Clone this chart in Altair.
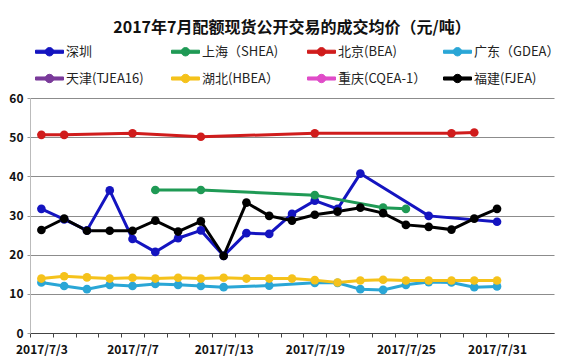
import altair as alt
import pandas as pd

dates = ["2017/7/3", "2017/7/4", "2017/7/5", "2017/7/6", "2017/7/7",
         "2017/7/10", "2017/7/11", "2017/7/12", "2017/7/13", "2017/7/14",
         "2017/7/17", "2017/7/18", "2017/7/19", "2017/7/20", "2017/7/21",
         "2017/7/24", "2017/7/25", "2017/7/26", "2017/7/27", "2017/7/28",
         "2017/7/31"]

series_names = ["深圳", "上海（SHEA)", "北京(BEA)", "广东（GDEA）",
                "天津(TJEA16)", "湖北(HBEA）", "重庆(CQEA-1）", "福建(FJEA)"]
series_colors = ["#1414c0", "#1f9a55", "#d01c1c", "#2aa6d6",
                 "#7a3a9a", "#f5c21b", "#e04cc8", "#000000"]

N = None
shenzhen = [31.7, 29.0, 26.2, 36.4, 24.0, 20.7, 24.2, 26.2, 19.7, 25.5, 25.3,
            30.4, 33.8, 31.7, 40.7, N, N, 29.9, N, N, 28.4]
shanghai = [N, N, N, N, N, 36.5, N, 36.5, N, N, N, N, 35.2, N, N, 32.0, 31.7,
            N, N, N, N]
beijing = [50.6, 50.6, N, N, 51.0, N, N, 50.1, N, N, N, N, 51.0, N, N, N, N,
           N, 51.0, 51.2, N]
guangdong = [12.9, 12.0, 11.2, 12.3, 12.0, 12.5, 12.3, 12.0, 11.7, N, 12.1, N,
             12.8, 12.8, 11.2, 11.0, 12.3, 13.0, 12.9, 11.7, 11.9]
tianjin = [N] * 21
hubei = [13.9, 14.5, 14.2, 13.9, 14.1, 13.9, 14.1, 13.9, 14.1, 13.9, 13.9,
         13.9, 13.5, 12.9, 13.4, 13.6, 13.4, 13.4, 13.4, 13.4, 13.4]
chongqing = [N] * 21
fujian = [26.3, 29.2, 26.1, 26.1, 26.1, 28.7, 25.9, 28.5, 19.7, 33.3, 29.9,
          28.7, 30.2, 31.0, 32.0, 30.6, 27.6, 27.1, 26.4, 29.2, 31.7]

y_ticks = [0, 10, 20, 30, 40, 50, 60]

all_values = [shenzhen, shanghai, beijing, guangdong, tianjin, hubei,
              chongqing, fujian]
rows = []
for k, (name, vals) in enumerate(zip(series_names, all_values)):
    for i, (d, v) in enumerate(zip(dates, vals)):
        if v is not None:
            rows.append({"series": name, "idx": i, "date": d, "value": v,
                         "k": k})
df = pd.DataFrame(rows)

FONT = "Noto Sans CJK SC"
tick_vals = [i - 0.5 for i in range(len(dates) + 1)]
labels_js = "[" + ",".join(
    ("'" + d + "'") if i % 4 == 0 else "''" for i, d in enumerate(dates)) + "]"
label_expr = labels_js + "[round(datum.value + 0.5)] || ''"

W, H = 524, 235
band = W / 23.0

x = alt.X("idx:Q", title=None,
          scale=alt.Scale(domain=[-0.5, 22.5], nice=False, zero=False),
          axis=alt.Axis(values=tick_vals, labelExpr=label_expr,
                        labelOffset=band / 2, labelOverlap=False,
                        labelBound=False, labelFlush=False, grid=False,
                        domainColor="#444444", tickColor="#444444",
                        tickSize=4, labelPadding=7, labelFontSize=12,
                        labelFontWeight="bold", labelColor="#111111",
                        labelFont=FONT))
y = alt.Y("value:Q", title=None,
          scale=alt.Scale(domain=[0, 60], nice=False),
          axis=alt.Axis(values=y_ticks, grid=True, gridColor="#8c8c8c",
                        gridWidth=1, domainColor="#bbbbbb", tickColor="#999999",
                        tickSize=3, labelPadding=4, labelFontSize=12,
                        labelFontWeight="bold", labelColor="#111111",
                        labelFont=FONT))

legend = alt.Legend(
    title=None, orient="none", legendX=5, legendY=-61, direction="horizontal",
    columns=4, gridAlign="all", columnPadding=14, rowPadding=5,
    symbolType="M-1,-0.11L1,-0.11L1,0.11L-1,0.11Z M-0.3,0A0.3,0.3,0,1,1,0.3,0A0.3,0.3,0,1,1,-0.3,0Z",
    symbolSize=784, symbolStrokeWidth=1, symbolOpacity=1,
    labelFont=FONT, labelFontSize=13, labelColor="#222222", labelOffset=2,
    labelLimit=200)

color = alt.Color("series:N",
                  scale=alt.Scale(domain=series_names, range=series_colors),
                  legend=legend)

base = alt.Chart(df)
lines = base.mark_line(strokeWidth=3).encode(
    x=x, y=y, color=color, order=alt.Order("idx:Q"))
points = base.mark_circle(size=75, opacity=1).encode(
    x=x, y=y, color=color)

chart = alt.layer(lines, points).properties(
    width=W, height=H,
    autosize=alt.AutoSizeParams(type="none"),
    padding={"left": 22, "top": 90, "right": 19, "bottom": 25},
    background="white",
    title=alt.Title("2017年7月配额现货公开交易的成交均价（元/吨）",
                    font=FONT, fontSize=16, fontWeight="bold",
                    color="#111111", anchor="middle", offset=1,
                    frame="group"),
).configure_view(stroke=None).configure_legend(gridAlign="all")

chart.save("out.html", embed_options={"renderer": "svg", "actions": False})
